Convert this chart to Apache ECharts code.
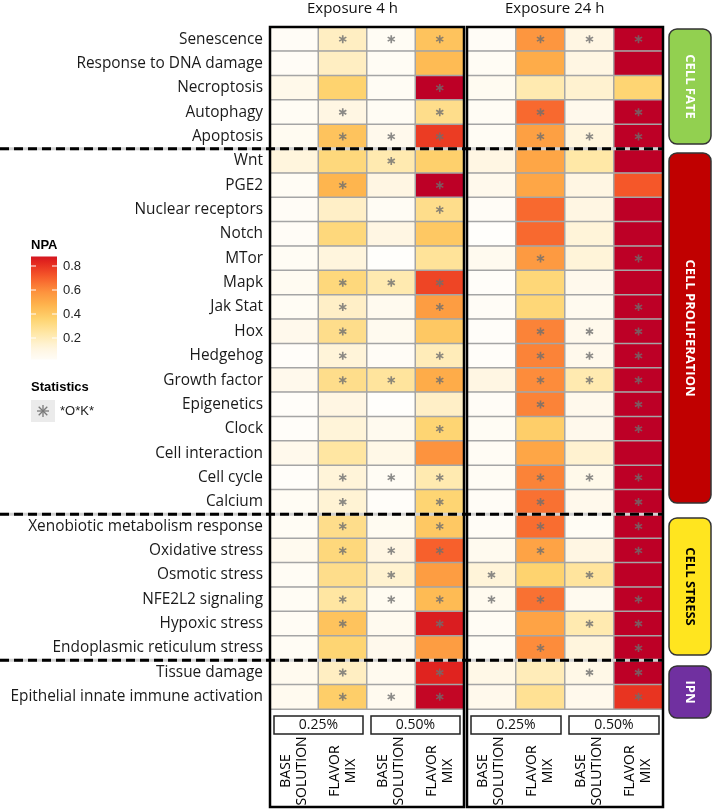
<!DOCTYPE html>
<html><head><meta charset="utf-8">
<script src="https://cdn.jsdelivr.net/npm/echarts@6/dist/echarts.min.js"></script>
<style>html,body{margin:0;padding:0;background:#fff}#c{width:714px;height:811px}</style>
</head><body><div id="c"></div>
<script>
// ---------------- DATA ----------------
const rows = ['Senescence','Response to DNA damage','Necroptosis','Autophagy','Apoptosis',
  'Wnt','PGE2','Nuclear receptors','Notch','MTor','Mapk','Jak Stat','Hox','Hedgehog','Growth factor',
  'Epigenetics','Clock','Cell interaction','Cell cycle','Calcium',
  'Xenobiotic metabolism response','Oxidative stress','Osmotic stress','NFE2L2 signaling','Hypoxic stress',
  'Endoplasmic reticulum stress','Tissue damage','Epithelial innate immune activation'];
const colLabels = ['BASE\nSOLUTION','FLAVOR\nMIX','BASE\nSOLUTION','FLAVOR\nMIX'];
const panelTitles = ['Exposure 4 h','Exposure 24 h'];
const doseLabels = ['0.25%','0.50%'];
const groupNames = ['CELL FATE','CELL PROLIFERATION','CELL STRESS','IPN'];
const groupSizes = [5,15,6,2];
const legendTicks = [0.2,0.4,0.6,0.8];
const statLabel = '*O*K*';

// NPA values (rows in order above)
const npa4h_025_base   = [0.02,0.02,0.07,0.03,0.04,0.12,0.03,0.02,0.02,0.03,0.04,0.03,0.06,0.01,0.06,0.01,0.01,0.06,0.01,0.03,0.03,0.05,0.03,0.03,0.03,0.03,0.05,0.05];
const npa4h_025_flavor = [0.18,0.18,0.36,0.10,0.42,0.33,0.47,0.17,0.33,0.12,0.33,0.17,0.30,0.13,0.30,0.10,0.13,0.25,0.13,0.14,0.30,0.33,0.30,0.25,0.42,0.35,0.18,0.38];
const npa4h_050_base   = [0.03,0.03,0.03,0.03,0.06,0.22,0.10,0.03,0.10,0.00,0.22,0.05,0.05,0.02,0.26,0.00,0.05,0.08,0.03,0.01,0.04,0.10,0.15,0.04,0.05,0.06,0.05,0.05];
const npa4h_050_flavor = [0.42,0.45,0.95,0.30,0.78,0.37,0.95,0.30,0.40,0.27,0.76,0.55,0.40,0.20,0.50,0.17,0.35,0.58,0.22,0.35,0.40,0.70,0.55,0.45,0.86,0.55,0.84,0.93];
const npa24h_025_base   = [0.02,0.03,0.04,0.03,0.03,0.10,0.06,0.02,0.00,0.05,0.01,0.02,0.01,0.01,0.10,0.02,0.03,0.03,0.03,0.02,0.02,0.05,0.13,0.05,0.03,0.03,0.08,0.06];
const npa24h_025_flavor = [0.57,0.50,0.22,0.68,0.54,0.52,0.52,0.68,0.68,0.56,0.34,0.34,0.62,0.62,0.60,0.62,0.38,0.52,0.62,0.66,0.67,0.53,0.36,0.66,0.53,0.60,0.20,0.28];
const npa24h_050_base   = [0.10,0.10,0.15,0.06,0.12,0.24,0.10,0.10,0.13,0.13,0.06,0.05,0.06,0.06,0.22,0.06,0.06,0.15,0.07,0.06,0.03,0.10,0.26,0.05,0.22,0.12,0.08,0.06];
const npa24h_050_flavor = [0.95,0.95,0.35,0.95,0.95,0.95,0.72,0.95,0.95,0.95,0.95,0.95,0.95,0.95,0.95,0.95,0.95,0.95,0.95,0.95,0.95,0.95,0.95,0.95,0.95,0.95,0.95,0.80];

// Statistics (*O*K*) flags
const sig4h_025_base   = [0,0,0,0,0,0,0,0,0,0,0,0,0,0,0,0,0,0,0,0,0,0,0,0,0,0,0,0];
const sig4h_025_flavor = [1,0,0,1,1,0,1,0,0,0,1,1,1,1,1,0,0,0,1,1,1,1,0,1,1,0,1,1];
const sig4h_050_base   = [1,0,0,0,1,1,0,0,0,0,1,0,0,0,1,0,0,0,1,0,0,1,1,1,0,0,0,1];
const sig4h_050_flavor = [1,0,1,1,1,0,1,1,0,0,1,1,0,1,1,0,1,0,1,1,1,1,0,1,1,0,1,1];
const sig24h_025_base   = [0,0,0,0,0,0,0,0,0,0,0,0,0,0,0,0,0,0,0,0,0,0,1,1,0,0,0,0];
const sig24h_025_flavor = [1,0,0,1,1,0,0,0,0,1,0,0,1,1,1,1,0,0,1,1,1,1,0,1,0,1,0,0];
const sig24h_050_base   = [1,0,0,0,1,0,0,0,0,0,0,0,1,1,1,0,0,0,1,0,0,0,1,0,1,0,1,0];
const sig24h_050_flavor = [1,0,0,1,1,0,0,0,0,1,0,1,1,1,1,1,1,0,1,1,1,1,0,1,1,1,1,1];

// ---------------- STYLE / LAYOUT ----------------
const palette = ['#fffefb','#fff5de','#ffe8a8','#fed470','#feb44c','#fd8f3c','#f65a2a','#e3261e','#bd0026'];
const vMin = 0, vMax = 0.95;
const FONT = 'Open Sans';
const TOP = 27, H = 682, BOTTOM = 807;
const panels = [
  {left:270, width:194, vals:[npa4h_025_base,npa4h_025_flavor,npa4h_050_base,npa4h_050_flavor],
   sig:[sig4h_025_base,sig4h_025_flavor,sig4h_050_base,sig4h_050_flavor]},
  {left:467, width:196, vals:[npa24h_025_base,npa24h_025_flavor,npa24h_050_base,npa24h_050_flavor],
   sig:[sig24h_025_base,sig24h_025_flavor,sig24h_050_base,sig24h_050_flavor]}
];
const rowH = H / rows.length;

function hexToRgb(h){return [parseInt(h.slice(1,3),16),parseInt(h.slice(3,5),16),parseInt(h.slice(5,7),16)];}
function colorAt(v){
  let t = (v - vMin)/(vMax - vMin); t = Math.max(0, Math.min(1, t));
  const p = t*(palette.length-1); const i = Math.min(palette.length-2, Math.floor(p)); const f = p - i;
  const a = hexToRgb(palette[i]), b = hexToRgb(palette[i+1]);
  return 'rgb(' + a.map((x,k)=>Math.round(x+(b[k]-x)*f)).join(',') + ')';
}

const astPath = 'path://M-1,-5L1,-5L1,5L-1,5Z M3.83,-3.37L4.83,-1.63L-3.83,3.37L-4.83,1.63Z M-4.83,-1.63L-3.83,-3.37L4.83,1.63L3.83,3.37Z';

const grids = [], xAxes = [], yAxes = [], series = [];
panels.forEach((p, pi) => {
  grids.push({left:p.left, top:TOP, width:p.width, height:H});
  xAxes.push({type:'category', gridIndex:pi, data:['c0','c1','c2','c3'], position:'bottom',
    axisLine:{show:false}, axisTick:{show:false}, splitLine:{show:false},
    axisLabel:{interval:0, rotate:90, margin:62, align:'center', verticalAlign:'middle', lineHeight:16,
      fontSize:14, fontFamily:FONT, color:'#000', formatter:(v,i)=>colLabels[i]}});
  yAxes.push({type:'category', gridIndex:pi, data:rows, inverse:true,
    axisLine:{show:false}, axisTick:{show:false}, splitLine:{show:false},
    axisLabel:{show:pi===0, interval:0, margin:7, fontSize:15.4, fontFamily:FONT, color:'#1a1a1a'}});
  const hd = [], sd = [];
  p.vals.forEach((arr, ci) => arr.forEach((v, ri) => {
    hd.push([ci, ri, v]);
    if (p.sig[ci][ri]) sd.push([ci, ri]);
  }));
  series.push({type:'heatmap', xAxisIndex:pi, yAxisIndex:pi, data:hd, silent:true,
    itemStyle:{borderColor:'#a5a5a5', borderWidth:1.5}, label:{show:false}});
  series.push({type:'scatter', xAxisIndex:pi, yAxisIndex:pi, data:sd, symbol:astPath, symbolSize:8,
    silent:true, z:5, itemStyle:{color:'#6e6e6e'}});
});

// graphics
const g = [];
panels.forEach((p, pi) => {
  g.push({type:'text', left:p.left + p.width/2 - 60, top:1, style:{text:panelTitles[pi], width:120, align:'center',
    font:'15px "' + FONT + '"', fill:'#111'}, z:10});
  g.push({type:'rect', shape:{x:p.left, y:TOP, width:p.width, height:BOTTOM-TOP},
    style:{fill:null, stroke:'#000', lineWidth:2.5}, z:20});
  const bw = p.width/2;
  doseLabels.forEach((d, di) => {
    const x0 = p.left + di*bw + 4, w = bw - 8;
    g.push({type:'rect', shape:{x:x0, y:716, width:w, height:18}, style:{fill:'#fff', stroke:'#222', lineWidth:1.5}, z:10});
    g.push({type:'text', x:x0 + w/2, y:725, style:{text:d, align:'center', verticalAlign:'middle',
      font:'14px "' + FONT + '"', fill:'#111'}, z:11});
  });
});
// dashed group separators
let acc = 0;
groupSizes.slice(0, -1).forEach(n => {
  acc += n;
  const y = TOP + acc*rowH;
  g.push({type:'line', shape:{x1:0, y1:y, x2:664, y2:y}, style:{stroke:'#d0d0d0', lineWidth:3}, z:15});
  g.push({type:'line', shape:{x1:0, y1:y, x2:664, y2:y}, style:{stroke:'#000', lineWidth:3, lineDash:[9,5]}, z:16});
});
// category boxes
const boxes = [
  {y0:29, y1:144, fill:'#92d050', text:'#fff'},
  {y0:153, y1:503, fill:'#c00000', text:'#fff'},
  {y0:518, y1:655, fill:'#ffe51f', text:'#000'},
  {y0:666, y1:718, fill:'#7030a0', text:'#fff'}
];
boxes.forEach((b, i) => {
  g.push({type:'rect', shape:{x:669, y:b.y0, width:42, height:b.y1-b.y0, r:8},
    style:{fill:b.fill, stroke:'#333', lineWidth:1.5}, z:10});
  g.push({type:'text', x:690, y:(b.y0+b.y1)/2, rotation:-Math.PI/2,
    style:{text:groupNames[i], align:'center', verticalAlign:'middle', font:'bold 13px "' + FONT + '"', fill:b.text}, z:11});
});
// NPA colour legend
const legY = v => 338 - (v - 0.2)*120;
const barTop = 0.88, barBot = 0.02;
const stops = [];
for (let k = 0; k <= 20; k++) { const v = barBot + (barTop-barBot)*k/20; stops.push({offset:1 - k/20, color:colorAt(v)}); }
g.push({type:'text', x:31, y:legY(barTop) - 4, style:{text:'NPA', align:'left', verticalAlign:'bottom',
  font:'bold 13px "Liberation Sans"', fill:'#000'}, z:10});
g.push({type:'rect', shape:{x:31, y:legY(barTop), width:26, height:legY(barBot)-legY(barTop)},
  style:{fill:new echarts.graphic.LinearGradient(0,0,0,1,stops)}, z:10});
legendTicks.forEach(t => {
  const y = legY(t);
  g.push({type:'line', shape:{x1:31, y1:y, x2:36, y2:y}, style:{stroke:'#fff', lineWidth:1}, z:11});
  g.push({type:'line', shape:{x1:52, y1:y, x2:57, y2:y}, style:{stroke:'#fff', lineWidth:1}, z:11});
  g.push({type:'text', x:63, y:y, style:{text:t.toFixed(1), align:'left', verticalAlign:'middle',
    font:'13px "Liberation Sans"', fill:'#222'}, z:11});
});
// Statistics legend
g.push({type:'text', x:31, y:387, style:{text:'Statistics', align:'left', verticalAlign:'middle',
  font:'bold 13px "Liberation Sans"', fill:'#000'}, z:10});
g.push({type:'rect', shape:{x:31, y:400, width:24, height:22}, style:{fill:'#ebebeb'}, z:10});
[[0,-6,0,6],[-6,0,6,0],[-4.3,-4.3,4.3,4.3],[-4.3,4.3,4.3,-4.3]].forEach(s => {
  g.push({type:'line', shape:{x1:43+s[0], y1:411+s[1], x2:43+s[2], y2:411+s[3]}, style:{stroke:'#7a7a7a', lineWidth:1.3}, z:11});
});
g.push({type:'text', x:60, y:411, style:{text:statLabel, align:'left', verticalAlign:'middle',
  font:'13px "Liberation Sans"', fill:'#222'}, z:10});

const chart = echarts.init(document.getElementById('c'), null, {renderer:'canvas'});
chart.setOption({
  animation:false,
  backgroundColor:'#fff',
  grid:grids, xAxis:xAxes, yAxis:yAxes,
  visualMap:{type:'continuous', show:false, min:vMin, max:vMax, dimension:2, seriesIndex:[0,2],
    inRange:{color:palette}},
  series:series,
  graphic:g
});
</script></body></html>
